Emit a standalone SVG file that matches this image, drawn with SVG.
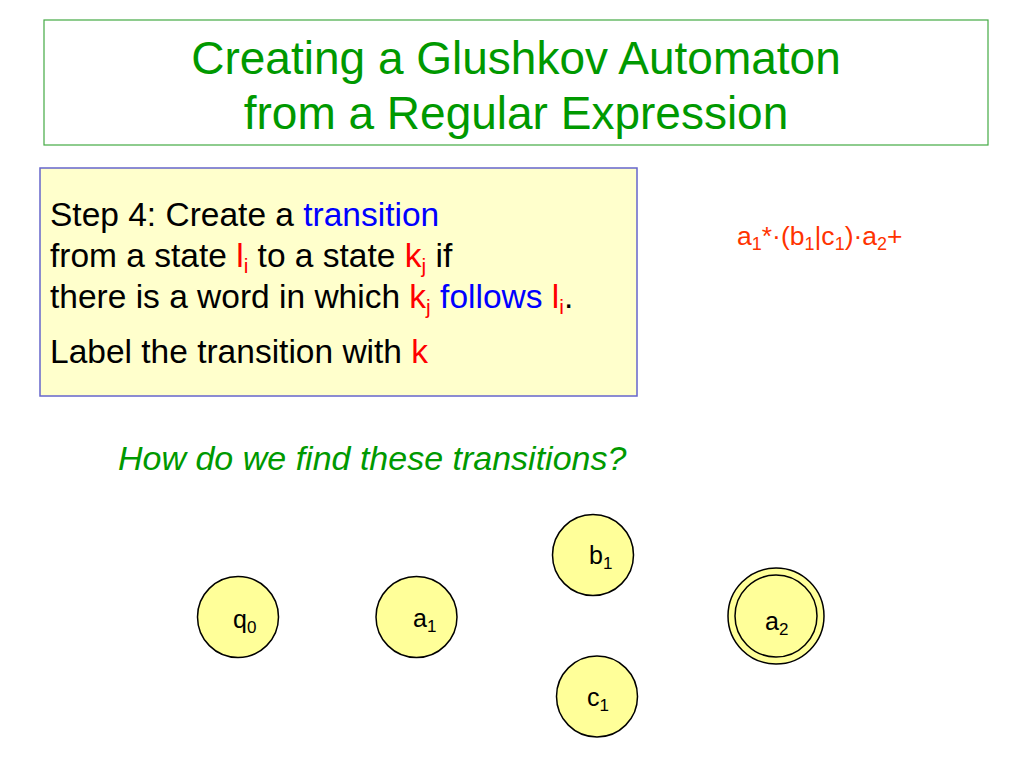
<svg xmlns="http://www.w3.org/2000/svg" width="1024" height="768" viewBox="0 0 1024 768">
<style>
  .t { font-family: "Liberation Sans", Arial, sans-serif; }
  .title { font-size: 46px; fill: #009900; text-anchor: middle; }
  .body { font-size: 33.5px; fill: #000000; }
  .red { fill: #FF0000; }
  .blue { fill: #0000FF; }
  .node { fill: #FFFF99; stroke: #000000; stroke-width: 1.5; }
  .lbl { font-size: 25px; fill: #000000; }
  .sub { font-size: 17px; }
  .bsub { font-size: 21px; }
</style>
<rect width="1024" height="768" fill="#FFFFFF"/>
<g id="title">
  <rect x="44" y="20" width="944" height="125" fill="#FFFFFF" stroke="#44AA44" stroke-width="1.2"/>
  <text class="t title" x="516" y="74">Creating a Glushkov Automaton</text>
  <text class="t title" x="516" y="129">from a Regular Expression</text>
</g>
<g id="step-box">
  <rect x="40" y="168" width="597" height="228" fill="#FFFFCC" stroke="#6666CC" stroke-width="1.5"/>
  <text class="t body" x="50" y="226">Step 4: Create a <tspan class="blue">transition</tspan></text>
  <text class="t body" x="50" y="267">from a state <tspan class="red">l</tspan><tspan class="red bsub" dy="6">i</tspan><tspan dy="-6"> to a state </tspan><tspan class="red">k</tspan><tspan class="red bsub" dy="6">j</tspan><tspan dy="-6"> if</tspan></text>
  <text class="t body" x="50" y="308">there is a word in which <tspan class="red">k</tspan><tspan class="red bsub" dy="6">j</tspan><tspan dy="-6"> </tspan><tspan class="blue">follows</tspan><tspan> </tspan><tspan class="red">l</tspan><tspan class="red bsub" dy="6">i</tspan><tspan dy="-6">.</tspan></text>
  <text class="t body" x="50" y="363">Label the transition with <tspan class="red">k</tspan></text>
</g>
<g id="expression">
  <text class="t" x="737" y="245" font-size="26.5" fill="#FF3300">a<tspan font-size="18" dy="5">1</tspan><tspan dy="-5">*·(b</tspan><tspan font-size="18" dy="5">1</tspan><tspan dy="-5">|c</tspan><tspan font-size="18" dy="5">1</tspan><tspan dy="-5">)·a</tspan><tspan font-size="18" dy="5">2</tspan><tspan dy="-5">+</tspan></text>
</g>
<g id="question">
  <text class="t" x="118" y="470" font-size="34" font-style="italic" fill="#009900">How do we find these transitions?</text>
</g>
<g id="connectors"></g>
<g id="node-q0">
  <circle class="node" cx="238" cy="617" r="40.5"/>
  <text class="t lbl" x="233" y="628">q<tspan class="sub" dy="5">0</tspan></text>
</g>
<g id="node-a1">
  <circle class="node" cx="416.5" cy="617" r="40.5"/>
  <text class="t lbl" x="413" y="627">a<tspan class="sub" dy="5">1</tspan></text>
</g>
<g id="node-b1">
  <circle class="node" cx="593" cy="555" r="40.5"/>
  <text class="t lbl" x="589" y="564">b<tspan class="sub" dy="5">1</tspan></text>
</g>
<g id="node-c1">
  <circle class="node" cx="597" cy="696.5" r="40.5"/>
  <text class="t lbl" x="587" y="706">c<tspan class="sub" dy="5">1</tspan></text>
</g>
<g id="node-a2">
  <circle class="node" cx="776" cy="616" r="48"/>
  <circle class="node" cx="776" cy="616" r="41"/>
  <text class="t lbl" x="765" y="630">a<tspan class="sub" dy="5">2</tspan></text>
</g>
</svg>
